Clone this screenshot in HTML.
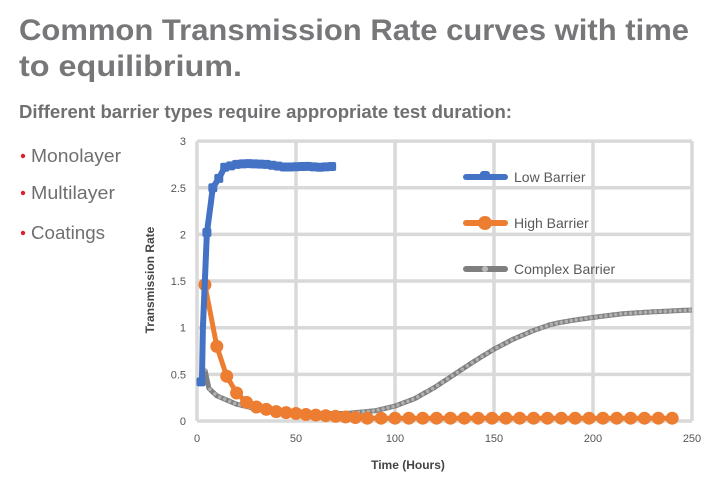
<!DOCTYPE html>
<html><head><meta charset="utf-8"><style>
html,body{margin:0;padding:0;background:#fff;width:710px;height:484px;overflow:hidden}
svg text{font-family:"Liberation Sans",sans-serif}
</style></head><body>
<svg id="s" width="710" height="484" viewBox="0 0 710 484" xmlns="http://www.w3.org/2000/svg">
<text x="19" y="40" font-size="30" font-weight="bold" fill="#77777a" textLength="670" lengthAdjust="spacingAndGlyphs">Common Transmission Rate curves with time</text>
<text x="19" y="76" font-size="30" font-weight="bold" fill="#77777a" textLength="223" lengthAdjust="spacingAndGlyphs">to equilibrium.</text>
<text x="19" y="118" font-size="18" font-weight="bold" fill="#707073" textLength="493" lengthAdjust="spacingAndGlyphs">Different barrier types require appropriate  test duration:</text>
<g font-size="18" fill="#6f6f72">
<circle cx="23" cy="156" r="2.2" fill="#e0202a"/><text x="31" y="162" textLength="90" lengthAdjust="spacingAndGlyphs">Monolayer</text>
<circle cx="23" cy="193" r="2.2" fill="#e0202a"/><text x="31" y="199" textLength="84" lengthAdjust="spacingAndGlyphs">Multilayer</text>
<circle cx="23" cy="233" r="2.2" fill="#e0202a"/><text x="31" y="239" textLength="74" lengthAdjust="spacingAndGlyphs">Coatings</text>
</g>
<g id="grid" stroke="#d9d9d9" stroke-width="3.5" fill="none"></g>
<g id="ticks" font-size="11" fill="#555"></g>
<text transform="translate(154,280) rotate(-90)" text-anchor="middle" font-size="12" font-weight="bold" fill="#444">Transmission Rate</text>
<text x="408" y="469" text-anchor="middle" font-size="12" font-weight="bold" fill="#444">Time (Hours)</text>
<g id="series"></g>
<g font-size="14" fill="#595959">
<line x1="466" y1="177" x2="505" y2="177" stroke="#4472c4" stroke-width="6" stroke-linecap="round"/><rect x="480" y="171" width="10" height="8" rx="3" fill="#4472c4"/>
<text x="514" y="182">Low Barrier</text>
<line x1="466" y1="223" x2="505" y2="223" stroke="#ed7d31" stroke-width="6" stroke-linecap="round"/><circle cx="485" cy="223" r="7" fill="#ed7d31"/>
<text x="514" y="228">High Barrier</text>
<line x1="466" y1="269" x2="505" y2="269" stroke="#7f7f7f" stroke-width="6" stroke-linecap="round"/><circle cx="485" cy="269" r="3" fill="#bbb"/>
<text x="514" y="274">Complex Barrier</text>
</g>
</svg>
<script>
var NS="http://www.w3.org/2000/svg";
function X(v){return 197+v*1.98}function Y(v){return 421-v*93.3}
function el(t,a,p){var e=document.createElementNS(NS,t);for(var k in a)e.setAttribute(k,a[k]);if(p)p.appendChild(e);return e}
var g=document.getElementById('grid'),tk=document.getElementById('ticks');
for(var i=0;i<=6;i++){var y=Y(i*0.5);el('line',{x1:X(0),x2:X(250),y1:y,y2:y},g);
 var t=el('text',{x:186,y:y+4,'text-anchor':'end'},tk);t.textContent=(i*0.5).toString();}
for(var i=0;i<=5;i++){var x=X(i*50);el('line',{x1:x,x2:x,y1:Y(3),y2:Y(0)},g);
 var t=el('text',{x:x,y:442,'text-anchor':'middle'},tk);t.textContent=i*50;}
var s=document.getElementById('series');
function interp(pts,x){for(var i=0;i<pts.length-1;i++){if(x<=pts[i+1][0]){var a=pts[i],b=pts[i+1];return a[1]+(b[1]-a[1])*(x-a[0])/(b[0]-a[0]);}}return pts[pts.length-1][1];}
var cp=[[4,0.55],[6,0.35],[10,0.27],[20,0.18],[30,0.13],[45,0.1],[60,0.08],[75,0.08],[90,0.11],[100,0.16],[110,0.24],[120,0.36],[130,0.5],[140,0.64],[150,0.77],[160,0.88],[170,0.97],[178,1.03],[182,1.05],[190,1.08],[200,1.11],[215,1.15],[230,1.17],[250,1.19]];
var d='';for(var x=4;x<=250;x+=1){d+=(x==4?'M':'L')+X(x).toFixed(1)+' '+Y(interp(cp,x)).toFixed(1);}
el('path',{d:d,stroke:'#7f7f7f','stroke-width':5,fill:'none','stroke-linejoin':'round'},s);
for(var x=4;x<=250;x+=2.5)el('circle',{cx:X(x),cy:Y(interp(cp,x)),r:1.8,fill:'#b0b0b0'},s);
var hp=[[4,1.46],[10,0.8],[15,0.48],[20,0.3],[25,0.2],[30,0.15],[40,0.1],[55,0.07],[70,0.05],[85,0.03],[250,0.03]];
var hx=[4,10,15,20,25,30,35,40,45,50,55,60,65,70,75,80];for(var x=86;x<=245;x+=7)hx.push(x);
d='';hx.forEach(function(x,i){d+=(i?'L':'M')+X(x).toFixed(1)+' '+Y(interp(hp,x)).toFixed(1)});
el('path',{d:d,stroke:'#ed7d31','stroke-width':5,fill:'none','stroke-linejoin':'round'},s);
hx.forEach(function(x){el('circle',{cx:X(x),cy:Y(interp(hp,x)),r:6.5,fill:'#ed7d31'},s)});
var lp=[[1.5,0.42],[2.5,0.42],[3,1.0],[5,2.02],[8,2.5],[11,2.6],[14,2.72],[20,2.75],[25,2.76],[35,2.75],[45,2.72],[55,2.73],[62,2.72],[70,2.73]];
d='';for(var x=1.5;x<=70;x+=0.5){d+=(x==1.5?'M':'L')+X(x).toFixed(1)+' '+Y(interp(lp,x)).toFixed(1);}
el('path',{d:d,stroke:'#4472c4','stroke-width':6,fill:'none','stroke-linejoin':'round'},s);
for(var x=2;x<=70;x+=3)el('rect',{x:X(x)-4.5,y:Y(interp(lp,x))-4.5,width:9,height:9,rx:2,fill:'#4472c4'},s);
</script>
</body></html>
